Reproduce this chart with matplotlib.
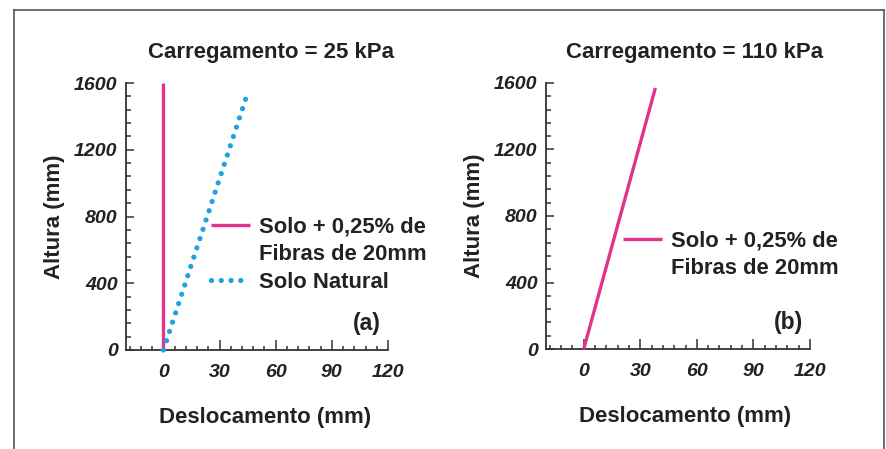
import matplotlib
matplotlib.use("Agg")
import matplotlib.pyplot as plt
from matplotlib.lines import Line2D
from matplotlib.ticker import MultipleLocator

plt.rcParams['font.family'] = ['Liberation Sans', 'DejaVu Sans']
plt.rcParams['font.weight'] = 'bold'

# ---- data ----
titles = ["Carregamento = 25 kPa", "Carregamento = 110 kPa"]
panel_tags = ["(a)", "(b)"]
x_ticks = [0, 30, 60, 90, 120]
y_ticks = [0, 400, 800, 1200, 1600]

# panel (a)
fib_a_x = [0, 0]
fib_a_y = [0, 1600]
nat_a_x = [0, 45]
nat_a_y = [0, 1540]
# panel (b)
fib_b_x = [0, 38]
fib_b_y = [0, 1570]

label_fib_1 = "Solo + 0,25% de"
label_fib_2 = "Fibras de 20mm"
label_nat = "Solo Natural"

PINK = "#e0348e"
BLUE = "#1fa3e0"
TXT = "#222222"

W, H = 886, 449
fig = plt.figure(figsize=(W / 100, H / 100), dpi=100)

def frac(x0, x1, ytop, ybot):
    return [x0 / W, 1 - ybot / H, (x1 - x0) / W, (ybot - ytop) / H]

ax_a = fig.add_axes(frac(126, 388, 83, 350))
ax_b = fig.add_axes(frac(546, 810, 83, 349))

dot_style = dict(color=BLUE, linewidth=3.8, linestyle=(0, (0.001, 1.85)),
                 dash_capstyle='round')
pink_style = dict(color=PINK, linewidth=2.4, solid_capstyle='butt')

ax_a.plot(fib_a_x, fib_a_y, clip_on=False, zorder=3, **pink_style)
ax_a.plot(nat_a_x, nat_a_y, clip_on=False, zorder=4, **dot_style)
ax_b.plot(fib_b_x, fib_b_y, clip_on=False, zorder=3, **pink_style)

for ax, title, tag, tx in [(ax_a, titles[0], panel_tags[0], 0.553),
                           (ax_b, titles[1], panel_tags[1], 0.564)]:
    ax.set_xlim(-20, 120)
    ax.set_ylim(0, 1600)
    ax.set_xticks(x_ticks)
    ax.set_yticks(y_ticks)
    ax.xaxis.set_minor_locator(MultipleLocator(6))
    ax.yaxis.set_minor_locator(MultipleLocator(80))
    for s in ['top', 'right']:
        ax.spines[s].set_visible(False)
    for s in ['left', 'bottom']:
        ax.spines[s].set_linewidth(1.3)
        ax.spines[s].set_color('#333333')
    ax.tick_params(which='both', direction='in', width=1.1, color='#333333')
    ax.tick_params(axis='x', which='major', length=7.2, pad=10)
    ax.tick_params(axis='x', which='minor', length=3.0)
    ax.tick_params(axis='y', which='major', length=6.0, pad=6)
    ax.tick_params(axis='y', which='minor', length=3.6)
    for lab in ax.get_xticklabels() + ax.get_yticklabels():
        lab.set_fontstyle('italic')
        lab.set_fontweight('bold')
        lab.set_fontsize(14)
        lab.set_color(TXT)
    ax.set_xlabel("Deslocamento (mm)", fontsize=16, fontweight='bold', color=TXT)
    ax.set_ylabel("Altura (mm)", fontsize=16, fontweight='bold', color=TXT)
    ax.text(tx, 1.116, title, transform=ax.transAxes, ha='center', va='center',
            fontsize=16, fontweight='bold', color=TXT)
    ax.text(0.92, 0.10, tag, transform=ax.transAxes, ha='center', va='center',
            fontsize=16.5, fontweight='bold', color=TXT)

ax_a.xaxis.set_label_coords(0.53, -0.2125)
ax_b.xaxis.set_label_coords(0.527, -0.2125)
ax_a.yaxis.set_label_coords(-0.232, 0.5)
ax_b.yaxis.set_label_coords(-0.230, 0.5)

blank = Line2D([], [], alpha=0)
h_pink = Line2D([], [], **pink_style)
h_blue = Line2D([], [], **dot_style)

leg_kw = dict(frameon=False, fontsize=15.8, handlelength=1.77, handletextpad=0.41,
              labelspacing=0.31, borderpad=0, borderaxespad=0, loc='upper left',
              labelcolor=TXT)
leg_a = ax_a.legend([h_pink, blank, h_blue], [label_fib_1, label_fib_2, label_nat],
                    bbox_to_anchor=(0.325, 0.501), **leg_kw)
leg_b = ax_b.legend([h_pink, blank], [label_fib_1, label_fib_2],
                    bbox_to_anchor=(0.292, 0.446), **leg_kw)

# outer frame
fc = '#555555'
fig.add_artist(Line2D([14 / W, 14 / W], [0, 1 - 10 / H], transform=fig.transFigure, color=fc, lw=1.2))
fig.add_artist(Line2D([14 / W, 884 / W], [1 - 10 / H, 1 - 10 / H], transform=fig.transFigure, color=fc, lw=1.2))
fig.add_artist(Line2D([884 / W, 884 / W], [0, 1 - 10 / H], transform=fig.transFigure, color=fc, lw=1.2))

fig.savefig("out.png", dpi=100, facecolor='white')
